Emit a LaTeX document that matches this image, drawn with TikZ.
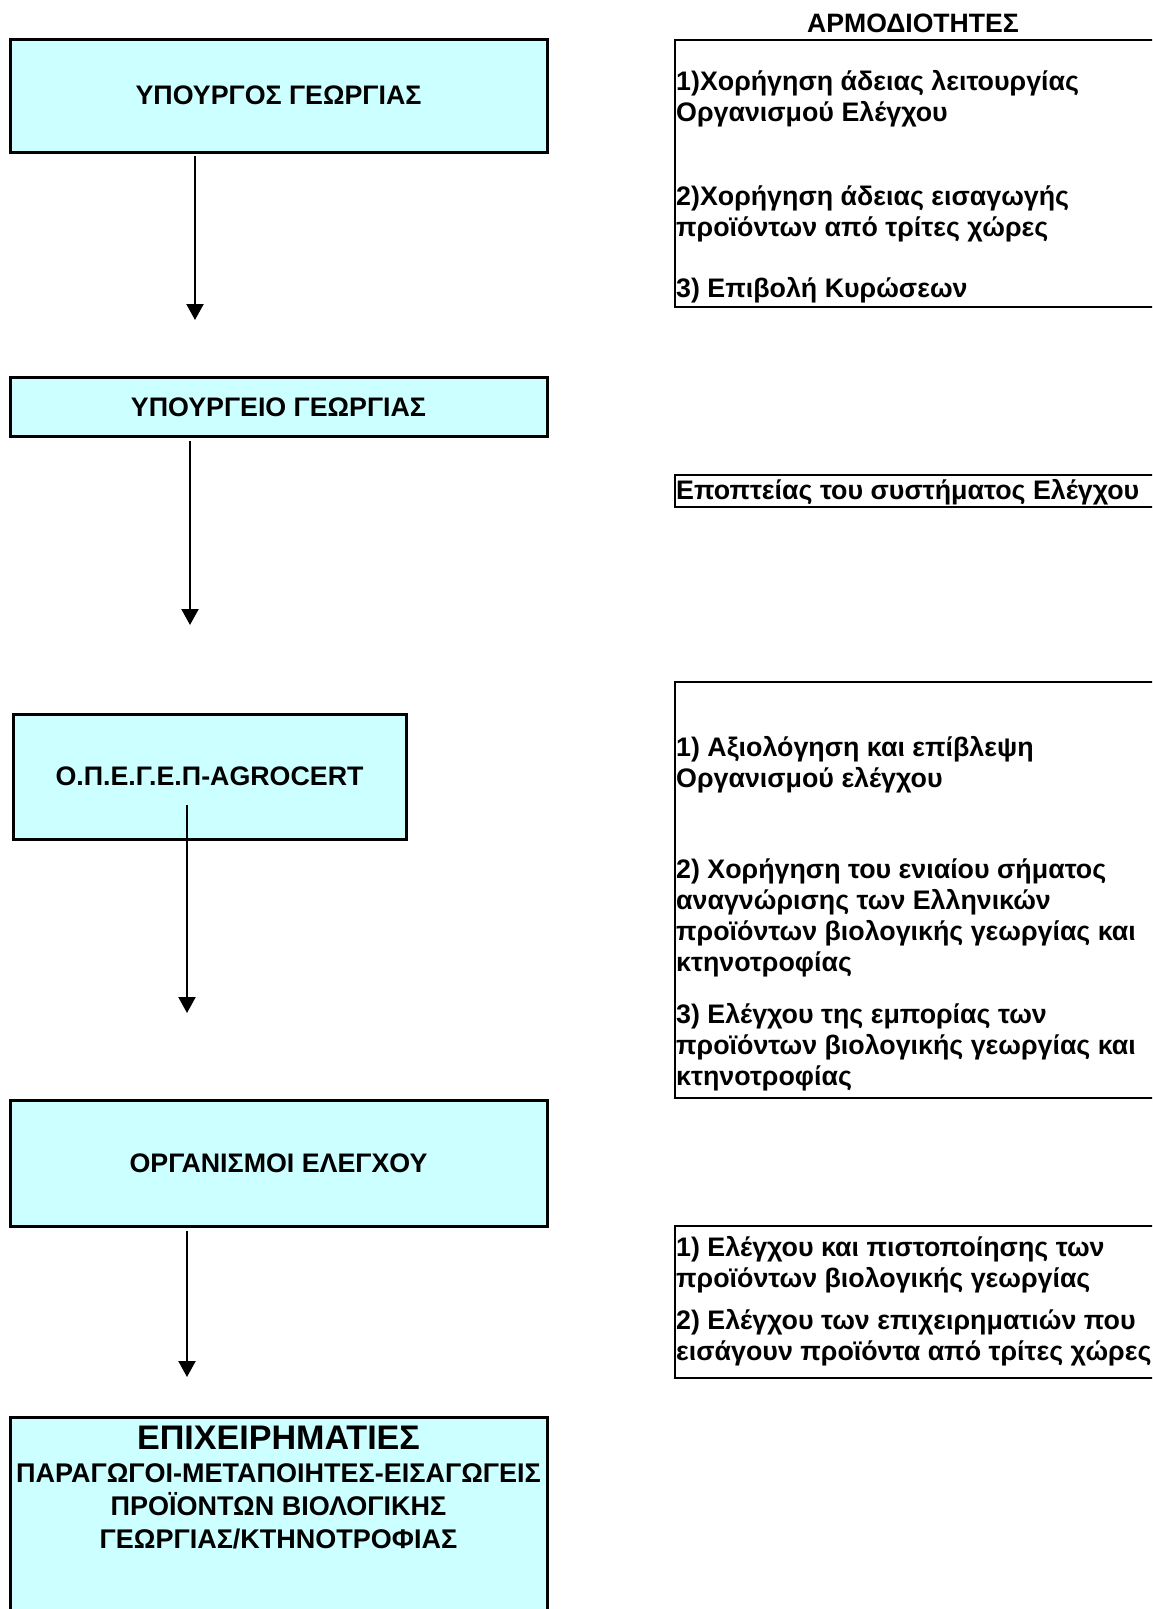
\documentclass[tikz,border=0pt]{standalone}
\usepackage{fontspec}
\setmainfont{Liberation Sans}
\usetikzlibrary{arrows.meta}
\definecolor{boxfill}{HTML}{CCFFFF}
\tikzset{
  lbox/.style={draw=black, line width=3pt, fill=boxfill, inner sep=0pt,
    font=\bfseries\fontsize{26.8}{31}\selectfont, align=center},
  rbox/.style={draw=black, line width=2.2pt, inner sep=0pt, anchor=north west,
    minimum width=520pt},
  rtext/.style={anchor=base west, inner sep=0pt,
    font=\bfseries\fontsize{26.8}{31}\selectfont},
  conn/.style={line width=2.2pt, -{Triangle[length=16pt,width=17pt]}},
}
\newcommand{\rpar}[1]{\parbox[t]{476pt}{\raggedright #1}}
\begin{document}
\begin{tikzpicture}[x=1pt,y=-1pt]
\useasboundingbox (0,0) rectangle (1152,1609);
\clip (0,0) rectangle (1152,1609);
\fill[white] (0,0) rectangle (1152,1609);

% left column boxes
\node[lbox, minimum width=537pt, minimum height=113pt] (b1) at (278.5,95.5) {ΥΠΟΥΡΓΟΣ ΓΕΩΡΓΙΑΣ};
\node[lbox, minimum width=537pt, minimum height=58.5pt] (b2) at (278.5,407) {ΥΠΟΥΡΓΕΙΟ ΓΕΩΡΓΙΑΣ};
\node[lbox, minimum width=393pt, minimum height=125pt] (b3) at (209.5,776.5) {Ο.Π.Ε.Γ.Ε.Π-AGROCERT};
\node[lbox, minimum width=537pt, minimum height=126pt] (b4) at (278.5,1163) {ΟΡΓΑΝΙΣΜΟΙ ΕΛΕΓΧΟΥ};
\node[lbox, minimum width=537pt, minimum height=240pt, anchor=north] (b5) at (278.5,1416) {};
\node[anchor=base, inner sep=0pt, font=\bfseries\fontsize{27}{33}\selectfont] (b5t) at (278.5,1449)
  {\parbox[t]{534pt}{\centering{\fontsize{34.1}{33}\selectfont ΕΠΙΧΕΙΡΗΜΑΤΙΕΣ}\\ΠΑΡΑΓΩΓΟΙ-ΜΕΤΑΠΟΙΗΤΕΣ-ΕΙΣΑΓΩΓΕΙΣ\\ΠΡΟΪΟΝΤΩΝ ΒΙΟΛΟΓΙΚΗΣ\\ΓΕΩΡΓΙΑΣ/ΚΤΗΝΟΤΡΟΦΙΑΣ}};

% connectors
\coordinate (a1s) at (195,156);  \coordinate (a1e) at (195,320);
\coordinate (a2s) at (190,441);  \coordinate (a2e) at (190,625);
\coordinate (a3s) at (187,805);  \coordinate (a3e) at (187,1013);
\coordinate (a4s) at (187,1231); \coordinate (a4e) at (187,1377);
\draw[conn] (a1s) -- (a1e);
\draw[conn] (a2s) -- (a2e);
\draw[conn] (a3s) -- (a3e);
\draw[conn] (a4s) -- (a4e);

% right column
\node[inner sep=0pt, font=\bfseries\fontsize{26.6}{31}\selectfont] (title) at (913,23) {ΑΡΜΟΔΙΟΤΗΤΕΣ};
\node[rbox, minimum height=267pt] (r1) at (674,39) {};
\node[rbox, minimum height=32pt] (r2) at (674,474) {};
\node[rbox, minimum height=416pt] (r3) at (674,681) {};
\node[rbox, minimum height=152pt] (r4) at (674,1225) {};

\node[rtext] (r1a) at (676,90) {\rpar{1)Χορήγηση άδειας λειτουργίας\\Οργανισμού Ελέγχου}};
\node[rtext] (r1b) at (676,205) {\rpar{2)Χορήγηση άδειας εισαγωγής\\προϊόντων από τρίτες χώρες}};
\node[rtext] (r1c) at (676,297) {\rpar{3) Επιβολή Κυρώσεων}};

\node[rtext] (r2a) at (676,499) {\rpar{Εποπτείας του συστήματος Ελέγχου}};

\node[rtext] (r3a) at (676,756) {\rpar{1) Αξιολόγηση και επίβλεψη\\Οργανισμού ελέγχου}};
\node[rtext] (r3b) at (676,878) {\rpar{2) Χορήγηση του ενιαίου σήματος\\αναγνώρισης των Ελληνικών\\προϊόντων βιολογικής γεωργίας και\\κτηνοτροφίας}};
\node[rtext] (r3c) at (676,1023) {\rpar{3) Ελέγχου της εμπορίας των\\προϊόντων βιολογικής γεωργίας και\\κτηνοτροφίας}};

\node[rtext] (r4a) at (676,1256) {\rpar{1) Ελέγχου και πιστοποίησης των\\προϊόντων βιολογικής γεωργίας}};
\node[rtext] (r4b) at (676,1329) {\rpar{2) Ελέγχου των επιχειρηματιών που\\εισάγουν προϊόντα από τρίτες χώρες}};
\end{tikzpicture}
\end{document}
